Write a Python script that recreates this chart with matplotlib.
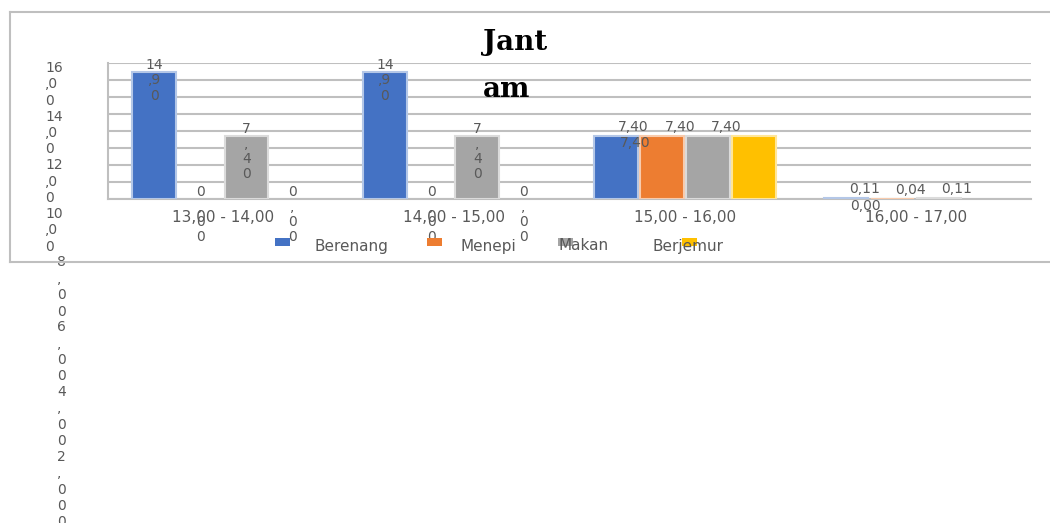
import matplotlib
matplotlib.use("Agg")
import matplotlib.pyplot as plt
from matplotlib.patches import Rectangle
from matplotlib.lines import Line2D
import numpy as np

W, H = 1050, 523

# data
categories = ["13,00 - 14,00", "14,00 - 15,00", "15,00 - 16,00", "16,00 - 17,00"]
series_names = ["Berenang", "Menepi", "Makan", "Berjemur"]
berenang = [14.90, 14.90, 7.40, 0.11]
menepi = [0.00, 0.00, 7.40, 0.04]
makan = [7.40, 7.40, 7.40, 0.11]
berjemur = [0.00, 0.00, 7.40, 0.00]
y_ticks = [0, 2, 4, 6, 8, 10, 12, 14, 16]

colors = ["#4472C4", "#ED7D31", "#A5A5A5", "#FFC000"]
edge_colors = ["#B4C7E7", "#F8CBAD", "#DBDBDB", "#FFE699"]
TEXT = "#595959"
FRAME = "#BFBFBF"


def fmt(v):
    return f"{v:.2f}".replace(".", ",")


def wrap(v):
    # narrow label box: "14,90" -> 14 / ,9 / 0 and "7,40" -> 7 / , / 4 / 0
    whole, dec = fmt(v).split(",")
    if len(whole) > 1:
        return [whole, "," + dec[0], dec[1]]
    return [whole, ",", dec[0], dec[1]]


def fx(px):
    return px / W


def fy(py):
    return 1 - py / H


fig = plt.figure(figsize=(W / 100, H / 100), dpi=100)
ax = fig.add_axes([fx(108), fy(199), fx(1031) - fx(108), (199 - 63) / H])

x = np.arange(len(categories))
series = [berenang, menepi, makan, berjemur]
bar_w = 0.2

for i, vals in enumerate(series):
    # no outline on empty bars
    lws = [1.5 if v > 0 else 0 for v in vals]
    ax.bar(x + (i - 1.5) * bar_w, vals, width=0.19, color=colors[i],
           edgecolor=edge_colors[i], linewidth=lws, zorder=3, label=series_names[i])

# data labels (first two groups wrapped, the others pushed aside)
wrapped_groups = [0, 1]
for i, vals in enumerate(series):
    for j, v in enumerate(vals):
        xc = j + (i - 1.5) * bar_w
        if j in wrapped_groups:
            ax.annotate("\n".join(wrap(v)), xy=(xc, v), xytext=(0, 14),
                        textcoords="offset pixels", ha="center", va="top",
                        fontsize=10, color=TEXT, linespacing=1.1,
                        annotation_clip=False, zorder=5)
        elif i < 3:
            ax.annotate(fmt(v), xy=(xc, v), xytext=(18, 9),
                        textcoords="offset pixels", ha="center", va="center",
                        fontsize=10, color=TEXT, annotation_clip=False, zorder=5)
        else:
            ax.annotate(fmt(v), xy=(xc, v), xytext=(-119, -7),
                        textcoords="offset pixels", ha="center", va="center",
                        fontsize=10, color=TEXT, annotation_clip=False, zorder=5)

ax.set_xlim(-0.5, len(categories) - 0.5)
ax.set_ylim(y_ticks[0], y_ticks[-1])
ax.set_yticks(y_ticks)
ax.set_yticklabels([])
ax.set_xticks(x)
ax.set_xticklabels(categories, fontsize=11, color=TEXT)
ax.tick_params(axis="both", length=0)
ax.tick_params(axis="x", pad=8)
ax.grid(axis="y", color=FRAME, linewidth=1.5, zorder=0)
ax.set_axisbelow(True)
for s in ["top", "right"]:
    ax.spines[s].set_visible(False)
for s in ["left", "bottom"]:
    ax.spines[s].set_color(FRAME)
    ax.spines[s].set_linewidth(1.5)

# y tick labels, wrapped and stacked one under the other
cum = 0
for t in sorted(y_ticks, reverse=True):
    lines = wrap(t)
    left = -63 if len(lines) == 3 else -51
    ax.annotate("\n".join(lines), xy=(0, y_ticks[-1]), xycoords=ax.get_yaxis_transform(),
                xytext=(left, 2 - 16.2 * cum), textcoords="offset pixels",
                ha="left", va="top", fontsize=10, color=TEXT, linespacing=1.22,
                annotation_clip=False)
    cum += len(lines)

# title
fig.text(fx(483), fy(29), "Jant\nam", fontfamily="DejaVu Serif", fontweight="bold",
         fontsize=20, ha="left", va="top", linespacing=1.95, color="black")

# legend
marker_x = [275, 427, 558, 682]
text_x = [315, 460, 558, 652]
for i, name in enumerate(series_names):
    fig.add_artist(Rectangle((fx(marker_x[i]), fy(246)), 15 / W, 8 / H,
                             transform=fig.transFigure, facecolor=colors[i],
                             edgecolor="none", zorder=1))
    fig.text(fx(text_x[i]), fy(246), name, fontsize=11, color=TEXT,
             ha="left", va="center", zorder=2)

# chart frame
frame_kw = dict(transform=fig.transFigure, color=FRAME, linewidth=1.5)
fig.add_artist(Line2D([fx(10), 1], [fy(12), fy(12)], **frame_kw))
fig.add_artist(Line2D([fx(10), 1], [fy(262), fy(262)], **frame_kw))
fig.add_artist(Line2D([fx(10), fx(10)], [fy(12), fy(262)], **frame_kw))

fig.savefig("out.png", dpi=100)
